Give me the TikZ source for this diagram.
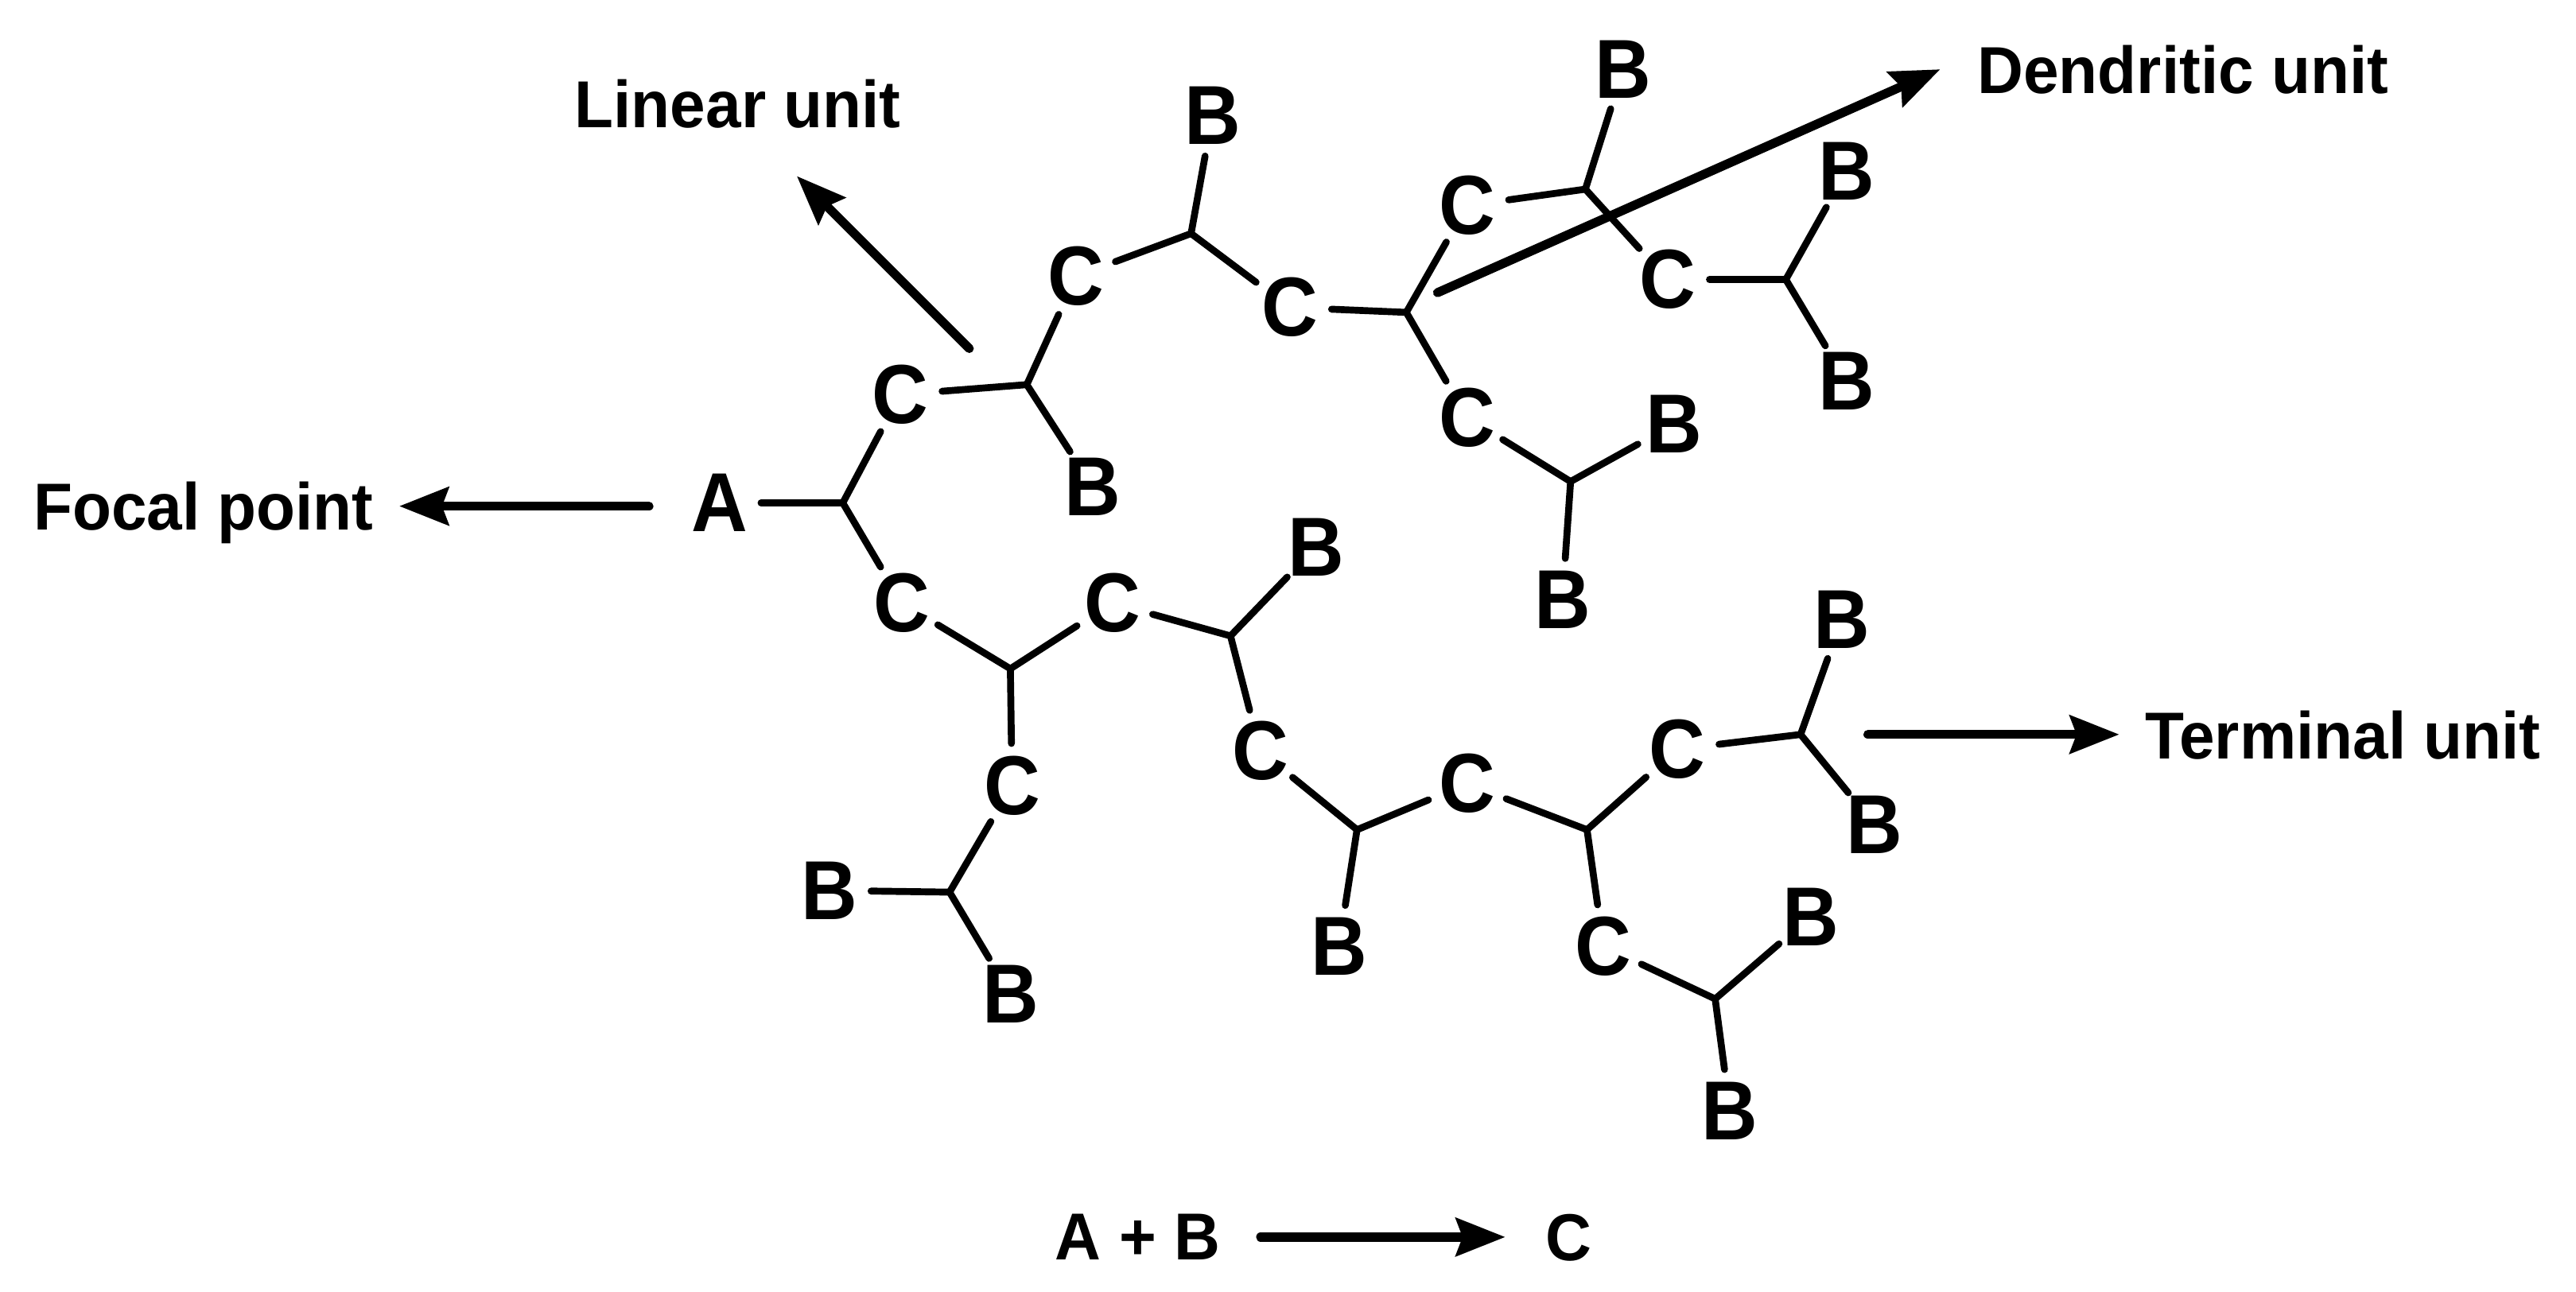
\documentclass[tikz,border=0pt]{standalone}
\usepackage{fontspec}
\setmainfont{Liberation Sans}
\newfontfamily\atomfont[FakeStretch=0.93]{Liberation Sans}
\newfontfamily\labelfont[FakeStretch=0.96]{Liberation Sans}
\usetikzlibrary{arrows.meta}

\begin{document}
\begin{tikzpicture}[
  atom_node/.style={circle, inner sep=0pt, font=\atomfont\fontsize{14.5}{16}\selectfont\bfseries},
  bond_line/.style={line width=0.042cm, line cap=round},
  unit_arrow/.style={line width=0.055cm, line cap=round, -{Stealth[length=0.30cm, width=0.23cm, inset=0.04cm]}},
  unit_label/.style={inner xsep=0.15cm, inner ysep=0pt, text depth=0pt, font=\labelfont\fontsize{11.5}{13}\selectfont\bfseries}
]
\useasboundingbox (0.000, 0.000) rectangle (15.680, 7.862);

\node[atom_node] (a) at (4.380, 4.800) {A};
\coordinate (j0) at (5.130, 4.800);

\node[atom_node] (c1) at (5.480, 5.460) {C};
\coordinate (j1) at (6.250, 5.520);
\node[atom_node] (b1) at (6.650, 4.900) {B};
\node[atom_node] (c2) at (6.550, 6.180) {C};
\coordinate (j2) at (7.250, 6.440);
\node[atom_node] (b2) at (7.380, 7.160) {B};
\node[atom_node] (c3) at (7.850, 5.990) {C};
\coordinate (j3) at (8.560, 5.960);
\node[atom_node] (c4) at (8.930, 6.610) {C};
\coordinate (j4) at (9.650, 6.710);
\node[atom_node] (b3) at (9.880, 7.440) {B};
\node[atom_node] (c6) at (10.150, 6.160) {C};
\coordinate (j5) at (10.870, 6.160);
\node[atom_node] (b4) at (11.240, 6.820) {B};
\node[atom_node] (b5) at (11.240, 5.540) {B};
\node[atom_node] (c5) at (8.930, 5.320) {C};
\coordinate (j6) at (9.560, 4.930);
\node[atom_node] (b6) at (10.190, 5.280) {B};
\node[atom_node] (b7) at (9.510, 4.210) {B};

\node[atom_node] (c7) at (5.490, 4.190) {C};
\coordinate (j7) at (6.150, 3.790);
\node[atom_node] (c9) at (6.160, 3.080) {C};
\coordinate (j8) at (5.780, 2.430);
\node[atom_node] (b8) at (5.050, 2.440) {B};
\node[atom_node] (b9) at (6.150, 1.810) {B};
\node[atom_node] (c8) at (6.770, 4.190) {C};
\coordinate (j9) at (7.490, 3.990);
\node[atom_node] (b10) at (8.010, 4.530) {B};
\node[atom_node] (c10) at (7.670, 3.290) {C};
\coordinate (j10) at (8.260, 2.810);
\node[atom_node] (b11) at (8.150, 2.100) {B};
\node[atom_node] (c11) at (8.930, 3.090) {C};
\coordinate (j11) at (9.660, 2.810);
\node[atom_node] (c12) at (10.210, 3.300) {C};
\coordinate (j12) at (10.960, 3.390);
\node[atom_node] (b12) at (11.210, 4.090) {B};
\node[atom_node] (b13) at (11.410, 2.840) {B};
\node[atom_node] (c13) at (9.760, 2.100) {C};
\coordinate (j13) at (10.440, 1.780);
\node[atom_node] (b14) at (11.020, 2.280) {B};
\node[atom_node] (b15) at (10.530, 1.100) {B};


\draw[bond_line] (a) -- (j0);
\draw[bond_line] (j0) -- (c1);
\draw[bond_line] (c1) -- (j1);
\draw[bond_line] (j1) -- (b1);
\draw[bond_line] (j1) -- (c2);
\draw[bond_line] (c2) -- (j2);
\draw[bond_line] (j2) -- (b2);
\draw[bond_line] (j2) -- (c3);
\draw[bond_line] (c3) -- (j3);
\draw[bond_line] (j3) -- (c4);
\draw[bond_line] (j3) -- (c5);
\draw[bond_line] (c4) -- (j4);
\draw[bond_line] (j4) -- (b3);
\draw[bond_line] (j4) -- (c6);
\draw[bond_line] (c6) -- (j5);
\draw[bond_line] (j5) -- (b4);
\draw[bond_line] (j5) -- (b5);
\draw[bond_line] (c5) -- (j6);
\draw[bond_line] (j6) -- (b6);
\draw[bond_line] (j6) -- (b7);

\draw[bond_line] (j0) -- (c7);
\draw[bond_line] (c7) -- (j7);
\draw[bond_line] (j7) -- (c8);
\draw[bond_line] (j7) -- (c9);
\draw[bond_line] (c9) -- (j8);
\draw[bond_line] (j8) -- (b8);
\draw[bond_line] (j8) -- (b9);
\draw[bond_line] (c8) -- (j9);
\draw[bond_line] (j9) -- (b10);
\draw[bond_line] (j9) -- (c10);
\draw[bond_line] (c10) -- (j10);
\draw[bond_line] (j10) -- (b11);
\draw[bond_line] (j10) -- (c11);
\draw[bond_line] (c11) -- (j11);
\draw[bond_line] (j11) -- (c12);
\draw[bond_line] (j11) -- (c13);
\draw[bond_line] (c12) -- (j12);
\draw[bond_line] (j12) -- (b12);
\draw[bond_line] (j12) -- (b13);
\draw[bond_line] (c13) -- (j13);
\draw[bond_line] (j13) -- (b14);
\draw[bond_line] (j13) -- (b15);


\node[unit_label] (linear) at (4.490, 7.230) {Linear unit};
\coordinate (linear_tail) at (5.900, 5.740);
\coordinate (linear_head) at (4.850, 6.790);
\draw[unit_arrow] (linear_tail) -- (linear_head);

\node[unit_label, anchor=west] (dendritic) at (11.880, 7.440) {Dendritic unit};
\coordinate (dendritic_tail) at (8.750, 6.080);
\coordinate (dendritic_head) at (11.810, 7.440);
\draw[unit_arrow] (dendritic_tail) -- (dendritic_head);

\node[unit_label, anchor=east] (focal) at (2.430, 4.780) {Focal point};
\coordinate (focal_tail) at (3.950, 4.780);
\draw[unit_arrow] (focal_tail) -- (focal);

\node[unit_label, anchor=west] (terminal) at (12.900, 3.390) {Terminal unit};
\coordinate (terminal_tail) at (11.370, 3.390);
\draw[unit_arrow] (terminal_tail) -- (terminal);


\node[unit_label, inner xsep=0.24cm] (reactants) at (6.925, 0.330) {A + B};
\node[unit_label, inner xsep=0.24cm] (product) at (9.550, 0.330) {C};
\draw[unit_arrow] (reactants) -- (product);

\end{tikzpicture}
\end{document}
